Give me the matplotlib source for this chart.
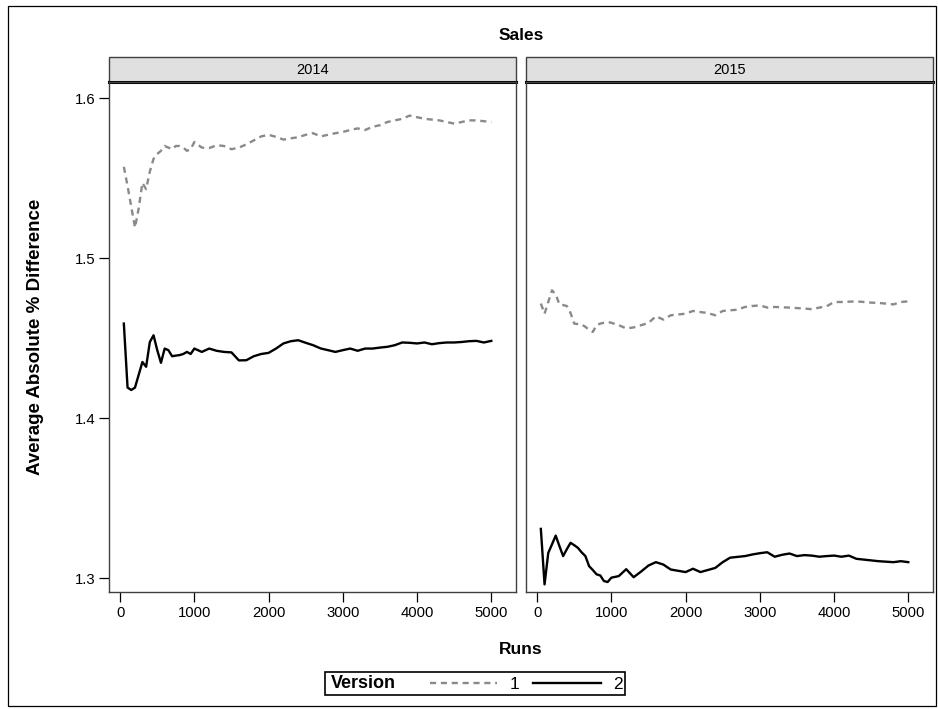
import numpy as np
import matplotlib.pyplot as plt
from matplotlib.patches import Rectangle
from matplotlib.lines import Line2D

plt.rcParams['font.family'] = ['Liberation Sans', 'DejaVu Sans']

# Runs grid (x values)
runs = [50, 100, 150, 200, 250, 300, 350, 400, 450, 500,
        550, 600, 650, 700, 750, 800, 850, 900, 950, 1000,
        1100, 1200, 1300, 1400, 1500, 1600, 1700, 1800, 1900, 2000,
        2100, 2200, 2300, 2400, 2500, 2600, 2700, 2800, 2900, 3000,
        3100, 3200, 3300, 3400, 3500, 3600, 3700, 3800, 3900, 4000,
        4100, 4200, 4300, 4400, 4500, 4600, 4700, 4800, 4900, 5000]

years = ["2014", "2015"]
versions = ["1", "2"]

# 2014, version 1 (dashed)
v1_2014 = [1.557, 1.545, 1.532, 1.519, 1.531, 1.547, 1.543, 1.554, 1.562, 1.565,
           1.567, 1.570, 1.569, 1.568, 1.570, 1.570, 1.569, 1.567, 1.568, 1.5725,
           1.569, 1.5687, 1.5705, 1.570, 1.568, 1.569, 1.571, 1.5735, 1.576, 1.577,
           1.5757, 1.574, 1.5748, 1.5755, 1.577, 1.578, 1.576, 1.577, 1.578, 1.5788,
           1.580, 1.581, 1.580, 1.582, 1.583, 1.585, 1.586, 1.587, 1.589, 1.588,
           1.587, 1.5865, 1.586, 1.585, 1.584, 1.585, 1.586, 1.586, 1.5855, 1.585]

# 2014, version 2 (solid)
v2_2014 = [1.459, 1.419, 1.4175, 1.419, 1.427, 1.435, 1.432, 1.4475, 1.4517, 1.4424,
           1.4345, 1.4434, 1.4424, 1.4386, 1.439, 1.4393, 1.440, 1.4413, 1.440, 1.4434,
           1.4413, 1.4434, 1.442, 1.4413, 1.441, 1.436, 1.4361, 1.4386, 1.440, 1.4407,
           1.4434, 1.4466, 1.448, 1.4486, 1.447, 1.4455, 1.4435, 1.4424, 1.4413, 1.4424,
           1.4434, 1.442, 1.4434, 1.4434, 1.444, 1.4445, 1.4455, 1.4472, 1.447, 1.4466,
           1.4472, 1.4461, 1.4468, 1.4472, 1.4472, 1.4475, 1.448, 1.4482, 1.4472, 1.4482]

# 2015, version 1 (dashed)
v1_2015 = [1.4715, 1.4652, 1.4725, 1.4798, 1.4773, 1.471, 1.4706, 1.470, 1.4656, 1.459,
           1.4587, 1.4584, 1.457, 1.455, 1.4538, 1.458, 1.459, 1.4595, 1.460, 1.4595,
           1.458, 1.456, 1.4566, 1.458, 1.4594, 1.4636, 1.4615, 1.4642, 1.4647, 1.4652,
           1.4669, 1.4662, 1.4656, 1.4642, 1.4669, 1.4673, 1.4677, 1.4694, 1.470, 1.4704,
           1.469, 1.4694, 1.4692, 1.469, 1.4687, 1.4684, 1.468, 1.469, 1.4698, 1.4725,
           1.4725, 1.4727, 1.4729, 1.4725, 1.4721, 1.4719, 1.4715, 1.471, 1.4725, 1.4729]

# 2015, version 2 (solid)
v2_2015 = [1.3307, 1.296, 1.3157, 1.321, 1.3265, 1.320, 1.3137, 1.318, 1.322, 1.3205,
           1.3188, 1.316, 1.3137, 1.3074, 1.305, 1.3023, 1.3016, 1.2981, 1.2975, 1.3002,
           1.3012, 1.3055, 1.3005, 1.304, 1.3078, 1.3099, 1.3084, 1.3053, 1.3045, 1.3037,
           1.3058, 1.3037, 1.305, 1.3063, 1.3099, 1.3127, 1.3132, 1.3137, 1.3147, 1.3155,
           1.3161, 1.3133, 1.3145, 1.3153, 1.3137, 1.3143, 1.314, 1.3133, 1.3137, 1.314,
           1.3133, 1.314, 1.312, 1.3115, 1.311, 1.3105, 1.3102, 1.3099, 1.3105, 1.3099]

x_ticks = [0, 1000, 2000, 3000, 4000, 5000]
y_ticks = [1.3, 1.4, 1.5, 1.6]

W, H = 938, 709
fig = plt.figure(figsize=(W / 100, H / 100), dpi=100)

# outer border
fig.patches.append(Rectangle((8 / W, 1 - 706 / H), 928 / W, 700 / H, transform=fig.transFigure,
                             fill=False, edgecolor='black', linewidth=0.9))

dash_style = dict(color='#8a8a8a', linewidth=1.7, linestyle=(0, (2.6, 2.0)))
solid_style = dict(color='black', linewidth=1.7)

panel_w = 407 / W
panel_h = 510 / H
bottom = 1 - 592 / H
lefts = [109 / W, 526 / W]
data = [(v1_2014, v2_2014), (v1_2015, v2_2015)]

for i, (yr, (s1, s2)) in enumerate(zip(years, data)):
    ax = fig.add_axes([lefts[i], bottom, panel_w, panel_h])
    ax.plot(runs, s1, **dash_style)
    ax.plot(runs, s2, **solid_style)
    ax.set_xlim(-150, 5333)
    ax.set_ylim(1.29125, 1.61)
    ax.set_xticks(x_ticks)
    ax.set_xticklabels([str(t) for t in x_ticks], fontsize=10.7)
    ax.tick_params(axis='x', direction='out', length=7, width=0.9, pad=3)
    if i == 0:
        ax.set_yticks(y_ticks)
        ax.set_yticklabels([str(t) for t in y_ticks], fontsize=10.7)
        ax.tick_params(axis='y', direction='out', length=7, width=0.9, pad=3)
    else:
        ax.set_yticks([])
    for sp in ax.spines.values():
        sp.set_color('#404040')
        sp.set_linewidth(1.0)
    # strip header
    sh = 25 / 510
    ax.add_patch(Rectangle((0, 1), 1, sh, transform=ax.transAxes, clip_on=False,
                           facecolor='#e0e0e0', edgecolor='#404040', linewidth=1.0))
    ax.plot([0, 1], [1, 1], transform=ax.transAxes, clip_on=False, color='black', linewidth=2.2)
    ax.text(0.5, 1 + sh / 2, yr, transform=ax.transAxes, ha='center', va='center', fontsize=10.5)

fig.text(521 / W, 1 - 35 / H, "Sales", ha='center', va='center', fontsize=12.5, fontweight='bold')
fig.text(36 / W, 1 - 337 / H, "Average Absolute % Difference", rotation=90,
         ha='center', va='center', fontsize=13.5, fontweight='bold')
fig.text(521 / W, 1 - 650 / H, "Runs", ha='center', va='center', fontsize=12.5, fontweight='bold')

# legend
fig.patches.append(Rectangle((325 / W, 1 - 695 / H), 300 / W, 23 / H, transform=fig.transFigure,
                             fill=False, edgecolor='black', linewidth=1.2))
fig.text(331 / W, 1 - 684 / H, "Version", ha='left', va='center', fontsize=13, fontweight='bold')
handles = [Line2D([], [], **dash_style), Line2D([], [], **solid_style)]
fig.legend(handles, versions, ncol=2, frameon=False, fontsize=12.5,
           loc='center', bbox_to_anchor=(526 / W, 1 - 684 / H),
           handlelength=3.9, handletextpad=0.7, columnspacing=0.8,
           borderpad=0, borderaxespad=0)

fig.savefig("out.png", dpi=100)
